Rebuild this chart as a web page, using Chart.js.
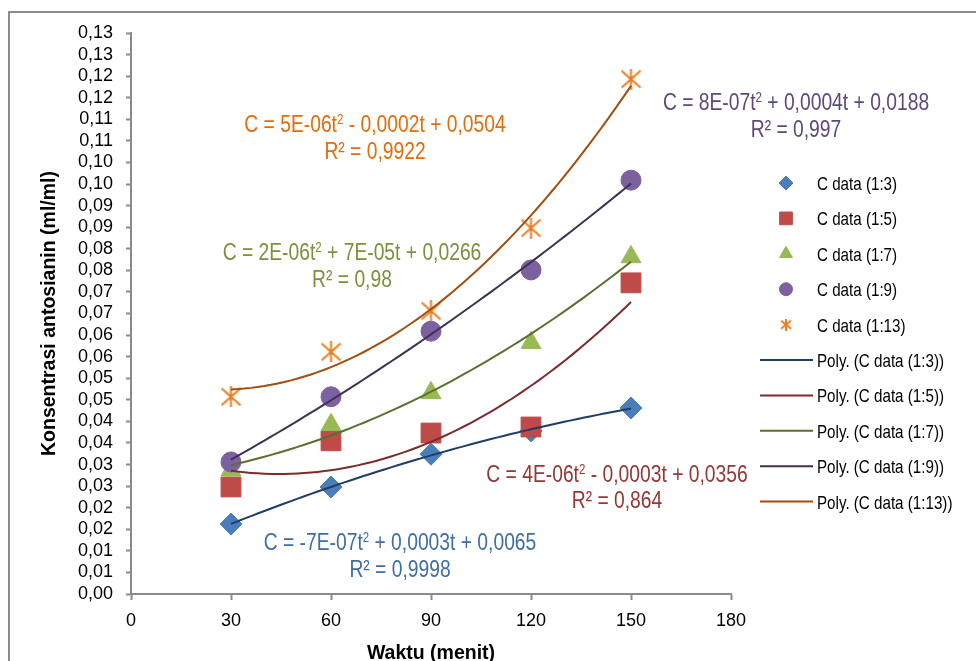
<!DOCTYPE html>
<html>
<head>
<meta charset="utf-8">
<script src="https://cdn.jsdelivr.net/npm/chart.js@4.4.1/dist/chart.umd.min.js"></script>
<style>
  html, body { margin: 0; padding: 0; background: #fff; }
  #wrap { position: relative; width: 976px; height: 661px; overflow: hidden; }
  #frame { position: absolute; left: 8px; top: 11px; width: 1200px; height: 900px;
           border-left: 2px solid #8c8c8c; border-top: 2px solid #8c8c8c; }
  #chart { position: absolute; left: 0; top: 0; }
</style>
</head>
<body>
<div id="wrap">
  <div id="frame"></div>
  <canvas id="chart" width="976" height="700"></canvas>
</div>
<script>
const FONT = '"Liberation Sans", Arial, sans-serif';
const NARROW = 0.82; // the picture uses a narrow face; squeeze drawn text to match

// data
const times = [30, 60, 90, 120, 150];
const seriesNames = ['C data (1:3)', 'C data (1:5)', 'C data (1:7)', 'C data (1:9)', 'C data (1:13)'];
const c1to3 = [0.0162, 0.0248, 0.0324, 0.0378, 0.0431];
const c1to5 = [0.0248, 0.0355, 0.0373, 0.0387, 0.0721];
const c1to7 = [0.0287, 0.0392, 0.0466, 0.0582, 0.0781];
const c1to9 = [0.0306, 0.0457, 0.0609, 0.0751, 0.0959];
const c1to13 = [0.0457, 0.0561, 0.0656, 0.0848, 0.1193];
const seriesValues = [c1to3, c1to5, c1to7, c1to9, c1to13];

const xTickLabels = ['0', '30', '60', '90', '120', '150', '180'];
const yTickLabels = ['0,00', '0,01', '0,01', '0,02', '0,02', '0,03', '0,03', '0,04', '0,04',
  '0,05', '0,05', '0,06', '0,06', '0,07', '0,07', '0,08', '0,08', '0,09', '0,09',
  '0,10', '0,10', '0,11', '0,11', '0,12', '0,12', '0,13', '0,13'];

// trendline labels (text before superscript, text after it, R² line)
const eqHead = ['C = -7E-07t', 'C = 4E-06t', 'C = 2E-06t', 'C = 8E-07t', 'C = 5E-06t'];
const eqTail = [' + 0,0003t + 0,0065', ' - 0,0003t + 0,0356', ' + 7E-05t + 0,0266', ' + 0,0004t + 0,0188', ' - 0,0002t + 0,0504'];
const eqR2 = ['R² = 0,9998', 'R² = 0,864', 'R² = 0,98', 'R² = 0,997', 'R² = 0,9922'];

// styles
const markerColors = ['#4a7ebb', '#be4b48', '#98b954', '#7d60a0', '#ee7a1e'];
const trendColors = ['#1f3d66', '#7b2d2b', '#5a7030', '#403153', '#a24e0e'];
const eqColors = ['#3f6ea6', '#953735', '#77933c', '#5f497a', '#e46c0a'];
const eqPos = [[400, 550, 577], [617, 482, 508], [352, 260, 287], [796, 110, 137], [375, 132, 159]];

function starImage(size, color, lw) {
  const c = document.createElement('canvas');
  c.width = size; c.height = size;
  const g = c.getContext('2d');
  g.strokeStyle = color; g.lineWidth = lw;
  const m = lw / 2;
  g.beginPath();
  g.moveTo(m, m + 1); g.lineTo(size - m, size - m - 1);
  g.moveTo(size - m, m + 1); g.lineTo(m, size - m - 1);
  g.moveTo(size / 2, 0); g.lineTo(size / 2, size);
  g.stroke();
  return c;
}

const markerStyles = ['rectRot', 'rect', 'triangle', 'circle', starImage(21, markerColors[4], 2)];
const markerRadius = [11, 14, 11.5, 10, 10];
const legendStyles = ['rectRot', 'rect', 'triangle', 'circle', starImage(12, markerColors[4], 2)];
const legendRadius = [7, 9, 7.5, 6.5, 6];

// least squares quadratic, like Excel's "Poly." trendline of order 2
function quadFit(xs, ys) {
  let n = xs.length, s1 = 0, s2 = 0, s3 = 0, s4 = 0, t0 = 0, t1 = 0, t2 = 0;
  xs.forEach((x, i) => {
    const y = ys[i];
    s1 += x; s2 += x * x; s3 += x * x * x; s4 += x * x * x * x;
    t0 += y; t1 += x * y; t2 += x * x * y;
  });
  const det = (m) => m[0][0] * (m[1][1] * m[2][2] - m[1][2] * m[2][1])
    - m[0][1] * (m[1][0] * m[2][2] - m[1][2] * m[2][0])
    + m[0][2] * (m[1][0] * m[2][1] - m[1][1] * m[2][0]);
  const A = [[n, s1, s2], [s1, s2, s3], [s2, s3, s4]];
  const B = [t0, t1, t2];
  const D = det(A);
  const col = (k) => A.map((row, r) => row.map((v, c) => (c === k ? B[r] : v)));
  return [det(col(0)) / D, det(col(1)) / D, det(col(2)) / D];
}

const trendT = [];
for (let t = times[0]; t <= times[times.length - 1]; t += 2) trendT.push(t);

const datasets = [];
seriesValues.forEach((vals, i) => {
  datasets.push({
    type: 'scatter',
    label: seriesNames[i],
    data: times.map((t, j) => ({ x: t, y: vals[j] })),
    pointStyle: markerStyles[i],
    pointRadius: markerRadius[i],
    pointHoverRadius: markerRadius[i],
    backgroundColor: markerColors[i],
    borderColor: markerColors[i],
    borderWidth: 1,
    order: 10 - i
  });
});
seriesValues.forEach((vals, i) => {
  const [a, b, c] = quadFit(times, vals);
  datasets.push({
    type: 'line',
    label: 'Poly. (' + seriesNames[i] + ')',
    data: trendT.map(t => ({ x: t, y: a + b * t + c * t * t })),
    borderColor: trendColors[i],
    borderWidth: 2,
    pointRadius: 0,
    tension: 0,
    fill: false,
    order: 0
  });
});

// text squeezed horizontally, left edge at x
function narrowText(ctx, text, x, y) {
  ctx.save();
  ctx.translate(x, y);
  ctx.scale(NARROW, 1);
  ctx.textAlign = 'left';
  ctx.fillText(text, 0, 0);
  ctx.restore();
}
const narrowWidth = (ctx, text) => ctx.measureText(text).width * NARROW;

function drawEquation(ctx, i) {
  const size = 23.5;
  const [cx, b1, b2] = eqPos[i];
  const big = size + 'px ' + FONT;
  const small = Math.round(size * 0.6) + 'px ' + FONT;
  ctx.fillStyle = eqColors[i];
  ctx.textBaseline = 'alphabetic';
  ctx.font = big;
  const w1 = narrowWidth(ctx, eqHead[i]);
  const w3 = narrowWidth(ctx, eqTail[i]);
  const wr = narrowWidth(ctx, eqR2[i]);
  ctx.font = small;
  const w2 = narrowWidth(ctx, '2');
  let x = cx - (w1 + w2 + w3) / 2;
  ctx.font = big; narrowText(ctx, eqHead[i], x, b1); x += w1;
  ctx.font = small; narrowText(ctx, '2', x, b1 - size * 0.33); x += w2;
  ctx.font = big; narrowText(ctx, eqTail[i], x, b1);
  narrowText(ctx, eqR2[i], cx - wr / 2, b2);
}

const equationPlugin = {
  id: 'equations',
  afterDatasetsDraw(chart) {
    const ctx = chart.ctx;
    ctx.save();
    seriesNames.forEach((n, i) => drawEquation(ctx, i));
    ctx.restore();
  }
};

const legendBox = { top: 183, step: 35.4, mark: 786, lineFrom: 760, lineTo: 813, text: 817 };
const sideLegend = {
  id: 'sideLegend',
  afterDraw(chart) {
    const ctx = chart.ctx;
    ctx.save();
    chart.data.datasets.forEach((ds, k) => {
      const y = legendBox.top + k * legendBox.step;
      if (ds.type === 'scatter') {
        ctx.fillStyle = markerColors[k];
        ctx.strokeStyle = markerColors[k];
        ctx.lineWidth = 1;
        Chart.helpers.drawPoint(ctx, { pointStyle: legendStyles[k], radius: legendRadius[k], rotation: 0, borderWidth: 1 }, legendBox.mark, y);
      } else {
        ctx.strokeStyle = ds.borderColor;
        ctx.lineWidth = 2;
        ctx.beginPath();
        ctx.moveTo(legendBox.lineFrom, y);
        ctx.lineTo(legendBox.lineTo, y);
        ctx.stroke();
      }
      ctx.fillStyle = '#000';
      ctx.font = '18.5px ' + FONT;
      ctx.textBaseline = 'middle';
      narrowText(ctx, ds.label, legendBox.text, y + 2);
    });
    ctx.restore();
  }
};

const axisGray = '#8a8a8a';

new Chart(document.getElementById('chart'), {
  data: { datasets },
  plugins: [equationPlugin, sideLegend],
  options: {
    responsive: false,
    animation: false,
    layout: { padding: { left: 0, top: 33, right: 245, bottom: 0 } },
    plugins: { legend: { display: false }, tooltip: { enabled: false } },
    scales: {
      x: {
        type: 'linear',
        min: 0,
        max: 180,
        afterFit: (s) => { s.height = 106; },
        ticks: {
          stepSize: 30,
          autoSkip: false,
          maxRotation: 0,
          padding: 10,
          color: '#000',
          font: { family: FONT, size: 18 },
          callback: (v, i) => xTickLabels[i]
        },
        grid: { drawOnChartArea: false, tickLength: 6, tickColor: axisGray, tickWidth: 2 },
        border: { color: axisGray, width: 2 },
        title: {
          display: true,
          text: 'Waktu (menit)',
          color: '#000',
          font: { family: FONT, size: 19.5, weight: 'bold' },
          padding: { top: 0, bottom: 35 }
        }
      },
      y: {
        type: 'linear',
        min: 0,
        max: 0.13,
        afterFit: (s) => { s.width = 131; },
        ticks: {
          stepSize: 0.005,
          autoSkip: false,
          padding: 13,
          color: '#000',
          font: { family: FONT, size: 18 },
          callback: (v, i) => yTickLabels[i]
        },
        grid: { drawOnChartArea: false, tickLength: 5, tickColor: axisGray, tickWidth: 2 },
        border: { color: axisGray, width: 2 },
        title: {
          display: true,
          text: 'Konsentrasi antosianin (ml/ml)',
          color: '#000',
          font: { family: FONT, size: 19.5, weight: 'bold' },
          padding: { top: 38, bottom: 0 }
        }
      }
    }
  }
});
</script>
</body>
</html>
